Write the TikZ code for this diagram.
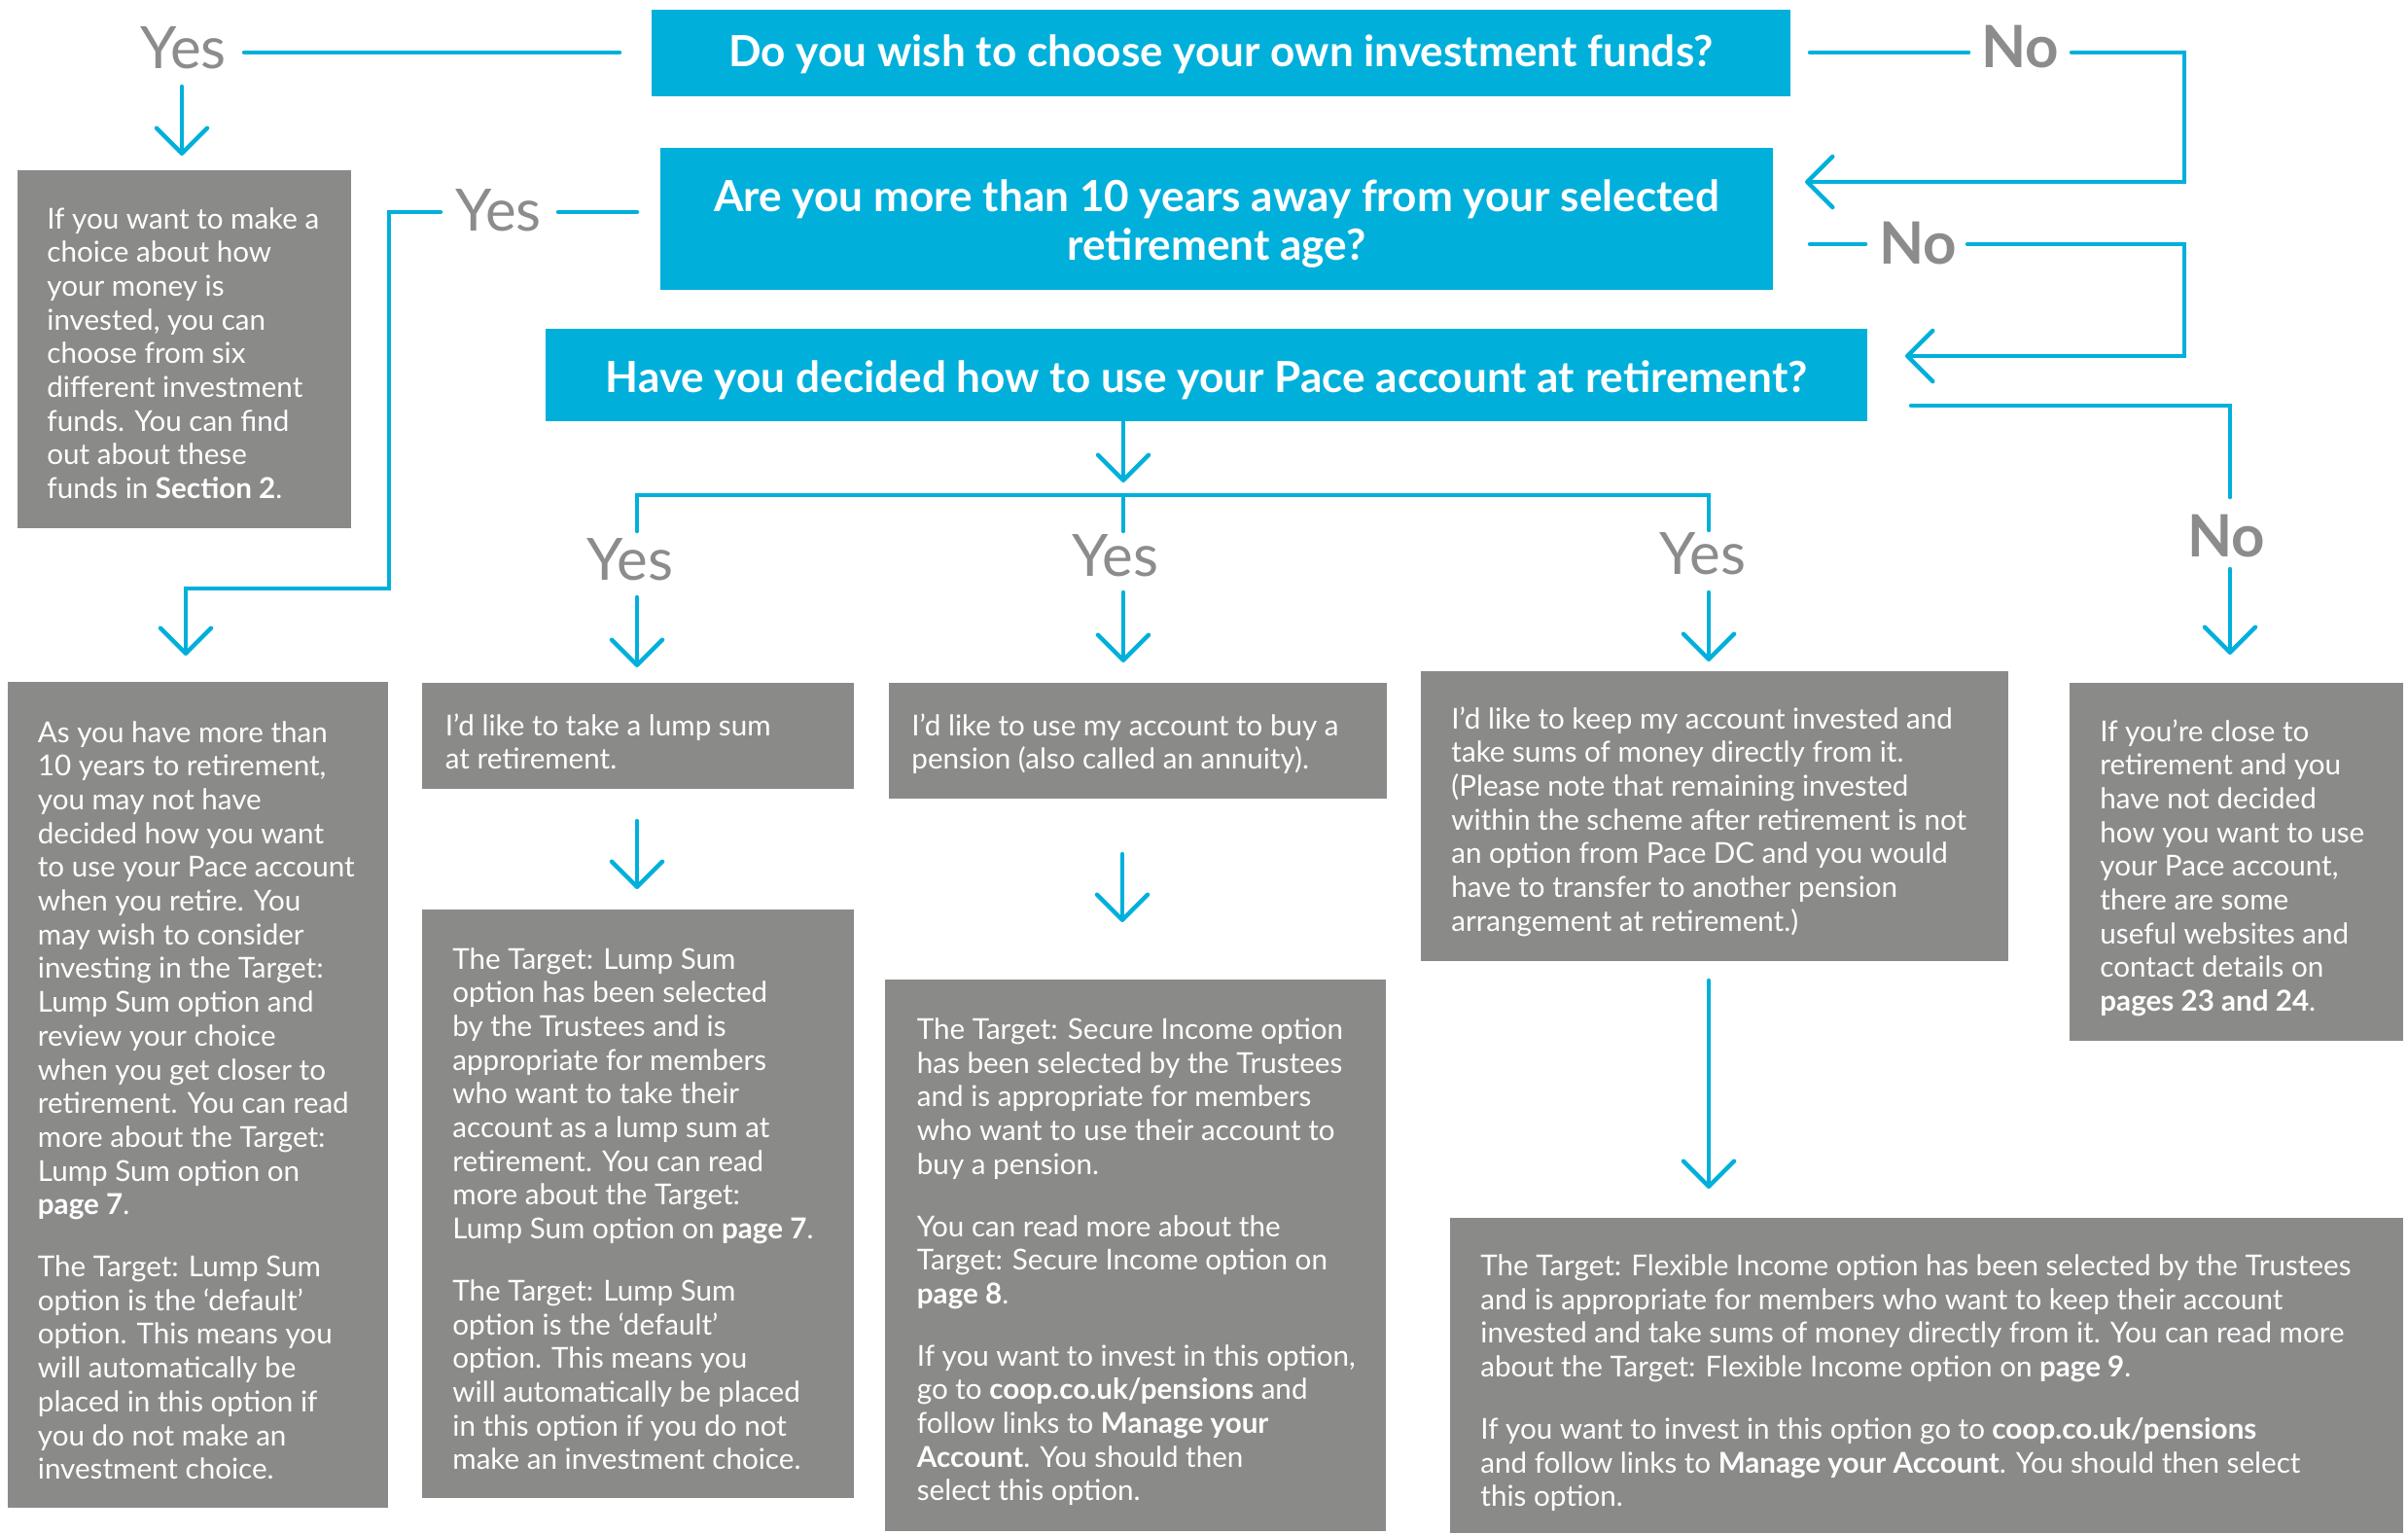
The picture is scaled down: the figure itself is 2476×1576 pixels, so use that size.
\documentclass[tikz,border=0pt]{standalone}
\usepackage{fontspec}
\setmainfont{Lato}
\usetikzlibrary{arrows.meta}
\definecolor{qblue}{RGB}{0,176,219}
\definecolor{boxgray}{RGB}{138,138,137}
\definecolor{lblgray}{RGB}{140,140,140}
\newcommand\bodyfnt{\fontsize{14.8pt}{17.35pt}\selectfont}
\newcommand\qfnt{\fontsize{22.05pt}{25pt}\selectfont\bfseries}
\newcommand\lblfnt{\fontsize{30pt}{30pt}\selectfont}
\newcommand\boxtext[1]{\vtop{\hsize=600pt\parindent=0pt\raggedright\bodyfnt #1}}
\newcommand\qtext[1]{\vtop{\hsize=700pt\parindent=0pt\centering\qfnt #1}}
\tikzset{
  qbox/.style={fill=qblue, inner sep=0pt},
  qtxt/.style={text=white, inner sep=0pt, anchor=base},
  gbox/.style={fill=boxgray, inner sep=0pt, anchor=north west},
  btext/.style={text=white, inner sep=0pt, anchor=base west},
  yeslbl/.style={text=lblgray, font=\lblfnt, inner sep=0pt, anchor=base},
  nolbl/.style={text=lblgray, font=\lblfnt\bfseries, inner sep=0pt, anchor=base},
  ln/.style={draw=qblue, line width=2.25pt, line cap=round, line join=miter},
  arr/.style={ln, -{Straight Barb[length=13pt, width=26pt, round]}},
}
\begin{document}
\begin{tikzpicture}[x=0.5pt, y=-0.5pt]
\useasboundingbox (0,0) rectangle (2476,1576);
\fill[white] (0,0) rectangle (2476,1576);

% questions
\node[qbox, minimum width=585.5pt, minimum height=44.5pt] (q1) at (1255.5,54.5) {};
\node[qtxt] (q1t) at (1255.5,68.3) {\qtext{Do you wish to choose your own investment funds?}};
\node[qbox, minimum width=572pt, minimum height=73pt] (q2) at (1251,225) {};
\node[qtxt] (q2t) at (1251,217.5) {\qtext{Are you more than 10 years away from your selected\\retirement age?}};
\node[qbox, minimum width=679.5pt, minimum height=47.5pt] (q3) at (1240.5,385.5) {};
\node[qtxt] (q3t) at (1240.5,403.3) {\qtext{Have you decided how to use your Pace account at retirement?}};

% labels
\node[yeslbl] (yes1) at (188.5,70) {Yes};
\node[yeslbl] (yes2) at (512.5,237.5) {Yes};
\node[yeslbl] (yes3) at (648,596) {Yes};
\node[yeslbl] (yes4) at (1147,592) {Yes};
\node[yeslbl] (yes5) at (1751,590) {Yes};
\node[nolbl] (no1) at (2077,69.5) {No};
\node[nolbl] (no2) at (1972,271) {No};
\node[nolbl] (no3) at (2289,572) {No};

% grey boxes
\node[gbox, minimum width=171.5pt, minimum height=184pt] (boxA) at (18,175) {};
\node[gbox, minimum width=195.5pt, minimum height=424.5pt] (boxE) at (8,701) {};
\node[gbox, minimum width=222pt, minimum height=54.5pt] (boxB) at (434,702) {};
\node[gbox, minimum width=222pt, minimum height=302.5pt] (boxB2) at (434,935) {};
\node[gbox, minimum width=256pt, minimum height=59.5pt] (boxC) at (914,702) {};
\node[gbox, minimum width=257.5pt, minimum height=283.5pt] (boxC2) at (910,1007) {};
\node[gbox, minimum width=302pt, minimum height=149pt] (boxD) at (1461,690) {};
\node[gbox, minimum width=490pt, minimum height=162pt] (boxD2) at (1491,1252) {};
\node[gbox, minimum width=171.5pt, minimum height=184pt] (boxF) at (2128,702) {};

% texts
\node[btext] (tA) at (48,235) {\boxtext{If you want to make a\\choice about how\\your money is\\invested, you can\\choose from six\\different investment\\funds. You can find\\out about these\\funds in \textbf{Section 2}.}};
\node[btext] (tE) at (38.5,763) {\boxtext{As you have more than\\10 years to retirement,\\you may not have\\decided how you want\\to use your Pace account\\when you retire. You\\may wish to consider\\investing in the Target:\\Lump Sum option and\\review your choice\\when you get closer to\\retirement. You can read\\more about the Target:\\Lump Sum option on\\\textbf{page 7}.\\[14.5pt]The Target: Lump Sum\\option is the ‘default’\\option. This means you\\will automatically be\\placed in this option if\\you do not make an\\investment choice.}};
\node[btext] (tB) at (457.5,756) {\boxtext{I’d like to take a lump sum\\at retirement.}};
\node[btext] (tB2) at (465,996) {\boxtext{The Target: Lump Sum\\option has been selected\\by the Trustees and is\\appropriate for members\\who want to take their\\account as a lump sum at\\retirement. You can read\\more about the Target:\\Lump Sum option on \textbf{page 7}.\\[14.5pt]The Target: Lump Sum\\option is the ‘default’\\option. This means you\\will automatically be placed\\in this option if you do not\\make an investment choice.}};
\node[btext] (tC) at (937,756) {\boxtext{I’d like to use my account to buy a\\pension (also called an annuity).}};
\node[btext] (tC2) at (942.5,1068.5) {\boxtext{The Target: Secure Income option\\has been selected by the Trustees\\and is appropriate for members\\who want to use their account to\\buy a pension.\\[14.5pt]You can read more about the\\Target: Secure Income option on\\\textbf{page 8}.\\[14.5pt]If you want to invest in this option,\\go to \textbf{coop.co.uk/pensions} and\\follow links to \textbf{Manage your}\\\textbf{Account}. You should then\\select this option.}};
\node[btext] (tD) at (1492,749) {\boxtext{I’d like to keep my account invested and\\take sums of money directly from it.\\(Please note that remaining invested\\within the scheme after retirement is not\\an option from Pace DC and you would\\have to transfer to another pension\\arrangement at retirement.)}};
\node[btext] (tD2) at (1522,1311.5) {\boxtext{The Target: Flexible Income option has been selected by the Trustees\\and is appropriate for members who want to keep their account\\invested and take sums of money directly from it. You can read more\\about the Target: Flexible Income option on \textbf{page 9}.\\[14.5pt]If you want to invest in this option go to \textbf{coop.co.uk/pensions}\\and follow links to \textbf{Manage your Account}. You should then select\\this option.}};
\node[btext] (tF) at (2159,762) {\boxtext{If you’re close to\\retirement and you\\have not decided\\how you want to use\\your Pace account,\\there are some\\useful websites and\\contact details on\\\textbf{pages 23 and 24}.}};

% connector points
\coordinate (a1s) at (637,54);   \coordinate (a1e) at (251,54);
\coordinate (a2s) at (187,89);   \coordinate (a2e) at (187,160);
\coordinate (a3s) at (1861,54);  \coordinate (a3e) at (2024,54);
\coordinate (a4s) at (2130,54);  \coordinate (a4b) at (2246,54);
\coordinate (a4c) at (2246,187); \coordinate (a4e) at (1856,187);
\coordinate (a5s) at (655,218);  \coordinate (a5e) at (574,218);
\coordinate (a6s) at (453,218);  \coordinate (a6b) at (400,218);
\coordinate (a6c) at (400,605);  \coordinate (a6d) at (191,605);
\coordinate (a6e) at (191,674);
\coordinate (a7s) at (1861,251); \coordinate (a7e) at (1918,251);
\coordinate (a8s) at (2023,251); \coordinate (a8b) at (2246,251);
\coordinate (a8c) at (2246,366); \coordinate (a8e) at (1959,366);
\coordinate (a9s) at (1965,417); \coordinate (a9b) at (2293,417);
\coordinate (a9e) at (2293,511);
\coordinate (a10s) at (2293,585); \coordinate (a10e) at (2293,673);
\coordinate (a11s) at (1155,434); \coordinate (a11e) at (1155,496);
\coordinate (t1) at (655,546);  \coordinate (t2) at (655,509);
\coordinate (t3) at (1757,509); \coordinate (t4) at (1757,545);
\coordinate (t5) at (1155,509); \coordinate (t6) at (1155,546);
\coordinate (a13s) at (655,614);  \coordinate (a13e) at (655,686);
\coordinate (a14s) at (1155,609); \coordinate (a14e) at (1155,681);
\coordinate (a15s) at (1757,609); \coordinate (a15e) at (1757,680);
\coordinate (a16s) at (655,844);  \coordinate (a16e) at (655,914);
\coordinate (a17s) at (1154,878); \coordinate (a17e) at (1154,948);
\coordinate (a18s) at (1757,1008); \coordinate (a18e) at (1757,1222);

% connectors
\draw[ln] (a1s) -- (a1e);
\draw[arr] (a2s) -- (a2e);
\draw[ln] (a3s) -- (a3e);
\draw[arr] (a4s) -- (a4b) -- (a4c) -- (a4e);
\draw[ln] (a5s) -- (a5e);
\draw[arr] (a6s) -- (a6b) -- (a6c) -- (a6d) -- (a6e);
\draw[ln] (a7s) -- (a7e);
\draw[arr] (a8s) -- (a8b) -- (a8c) -- (a8e);
\draw[ln] (a9s) -- (a9b) -- (a9e);
\draw[arr] (a10s) -- (a10e);
\draw[arr] (a11s) -- (a11e);
\draw[ln] (t1) -- (t2) -- (t3) -- (t4);
\draw[ln] (t5) -- (t6);
\draw[arr] (a13s) -- (a13e);
\draw[arr] (a14s) -- (a14e);
\draw[arr] (a15s) -- (a15e);
\draw[arr] (a16s) -- (a16e);
\draw[arr] (a17s) -- (a17e);
\draw[arr] (a18s) -- (a18e);
\end{tikzpicture}
\end{document}
